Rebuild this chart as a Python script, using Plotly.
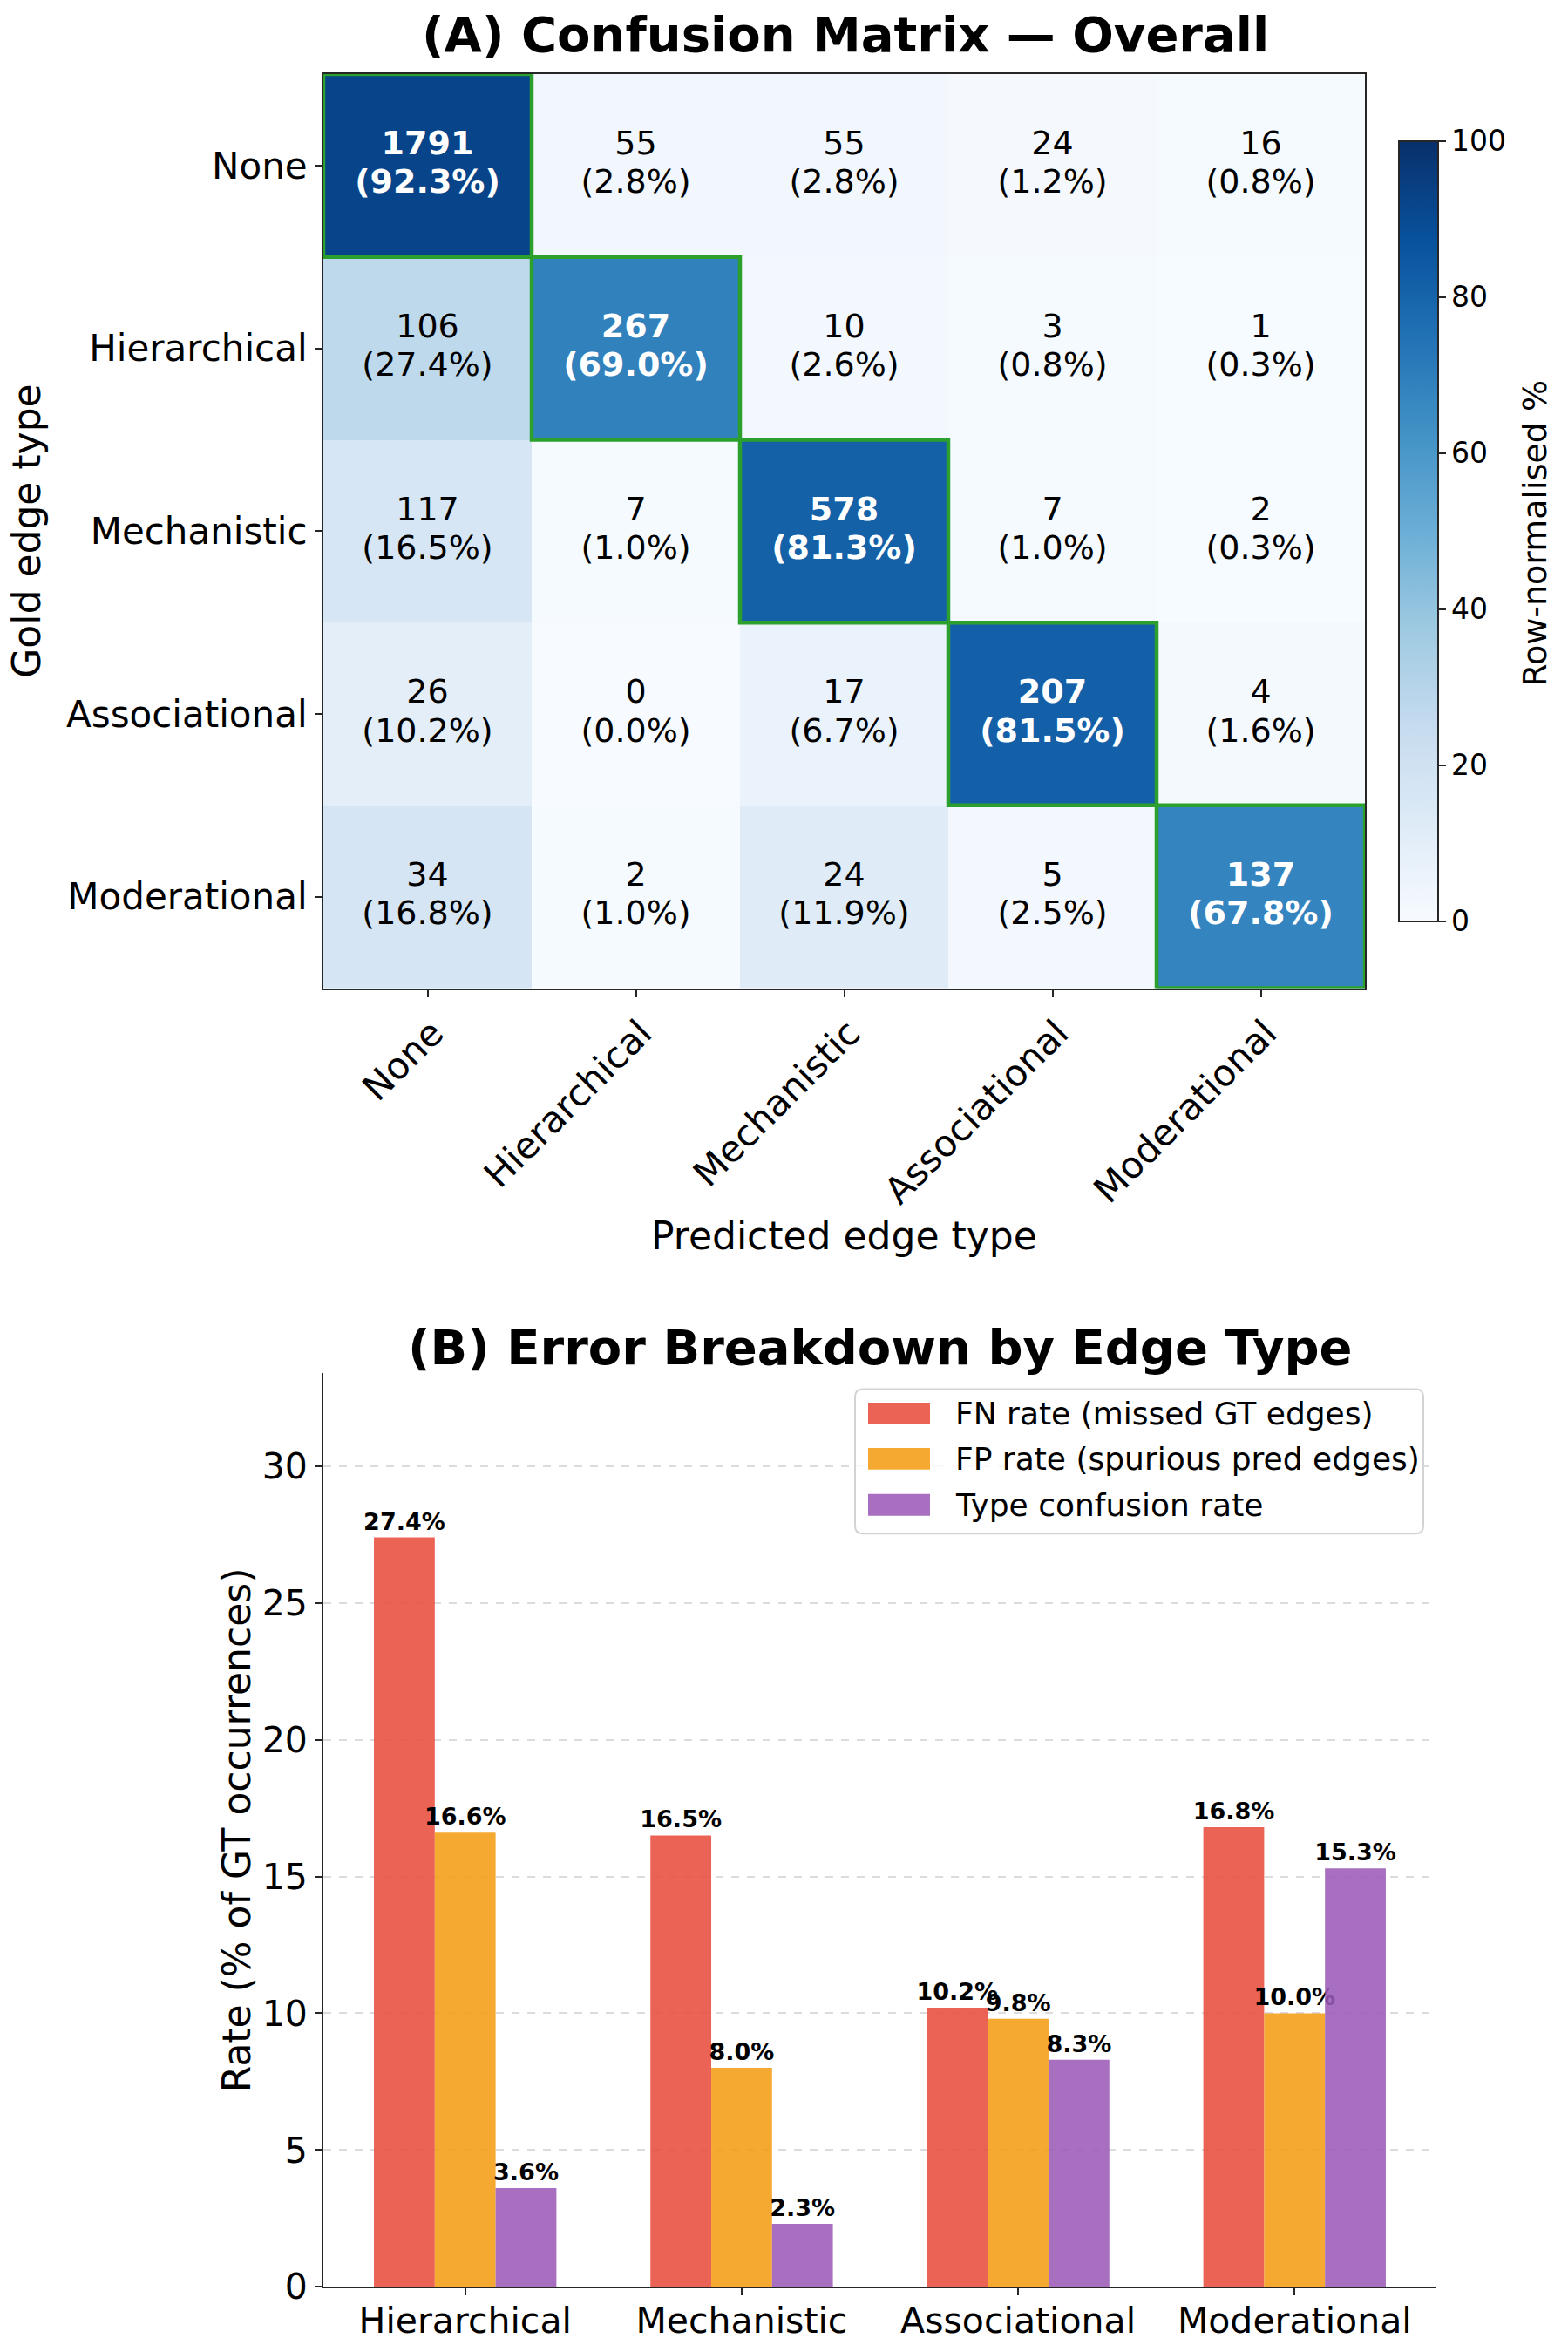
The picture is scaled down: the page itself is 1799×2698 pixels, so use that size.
import plotly.graph_objects as go

W = 1799
REF_H = 2698          # reference picture height; all positions below are reference pixels
HF = 2721             # figure height (the page is captured a little taller and scaled to 2698)
FONT = "DejaVu Sans"

# ---------------- data ----------------
pred_labels = ["None", "Hierarchical", "Mechanistic", "Associational", "Moderational"]
gold_labels = ["None", "Hierarchical", "Mechanistic", "Associational", "Moderational"]
counts = [
    [1791, 55, 55, 24, 16],
    [106, 267, 10, 3, 1],
    [117, 7, 578, 7, 2],
    [26, 0, 17, 207, 4],
    [34, 2, 24, 5, 137],
]

edge_types = ["Hierarchical", "Mechanistic", "Associational", "Moderational"]
fn_rate = [27.4, 16.5, 10.2, 16.8]
fp_rate = [16.6, 8.0, 9.8, 10.0]
tc_rate = [3.6, 2.3, 8.3, 15.3]

series_names = ["FN rate (missed GT edges)", "FP rate (spurious pred edges)", "Type confusion rate"]
series_colors = ["#e74c3c", "#f39c12", "#9b59b6"]
BAR_ALPHA = 0.87

blues = ['rgb(247,251,255)', 'rgb(222,235,247)', 'rgb(198,219,239)', 'rgb(158,202,225)',
         'rgb(107,174,214)', 'rgb(66,146,198)', 'rgb(33,113,181)', 'rgb(8,81,156)', 'rgb(8,48,107)']
blues_scale = [[i / 8, c] for i, c in enumerate(blues)]

pct = [[100.0 * v / sum(row) for v in row] for row in counts]


def px_x(p):
    return p / W


def px_y(p):
    return 1 - p / REF_H


def rgba(hexcol, a):
    h = hexcol.lstrip("#")
    r, g, b = int(h[0:2], 16), int(h[2:4], 16), int(h[4:6], 16)
    return f"rgba({r},{g},{b},{a})"


fig = go.Figure()

# ---------------- (A) heatmap ----------------
nrow, ncol = len(gold_labels), len(pred_labels)
fig.add_trace(go.Heatmap(
    z=pct, x=list(range(ncol)), y=list(range(nrow)), zmin=0, zmax=100,
    colorscale=blues_scale, hoverinfo="skip",
    xaxis="x", yaxis="y",
    colorbar=dict(
        x=px_x(1605), xanchor="left", xpad=0, ypad=0,
        y=px_y(609.5), yanchor="middle", len=(1057 - 162) / REF_H, lenmode="fraction",
        thickness=45, outlinewidth=2, outlinecolor="#262626",
        tickvals=[0, 20, 40, 60, 80, 100], ticks="outside", ticklen=8, tickwidth=2,
        tickcolor="#262626",
        tickfont=dict(family=FONT, size=33, color="black"),
    ),
))

LINE_OFF = 0.105
cx, cy, ctext, ccol = [], [], [], []
px_, py_, ptext = [], [], []
for i in range(nrow):
    for j in range(ncol):
        diag = i == j
        c = f"{counts[i][j]}"
        p = f"({pct[i][j]:.1f}%)"
        if diag:
            c, p = f"<b>{c}</b>", f"<b>{p}</b>"
        cx.append(j); cy.append(i - LINE_OFF); ctext.append(c)
        px_.append(j); py_.append(i + LINE_OFF); ptext.append(p)
        ccol.append("white" if pct[i][j] > 50 else "black")

for xs, ys, ts in [(cx, cy, ctext), (px_, py_, ptext)]:
    fig.add_trace(go.Scatter(
        x=xs, y=ys, text=ts, mode="text", textposition="middle center",
        textfont=dict(family=FONT, size=38, color=ccol),
        hoverinfo="skip", showlegend=False, xaxis="x", yaxis="y",
    ))

for k in range(min(nrow, ncol)):
    fig.add_shape(type="rect", xref="x", yref="y",
                  x0=k - 0.5, x1=k + 0.5, y0=k - 0.5, y1=k + 0.5,
                  line=dict(color="#2ca02c", width=4.5), layer="above")

# ---------------- (B) bars ----------------
for name, vals, col in zip(series_names, [fn_rate, fp_rate, tc_rate], series_colors):
    fig.add_trace(go.Bar(
        x=edge_types, y=vals, name=name,
        marker=dict(color=rgba(col, BAR_ALPHA), line=dict(width=0)),
        text=[f"{v:.1f}%" for v in vals], textposition="outside", constraintext="none",
        textfont=dict(family=FONT, size=27, color="black", weight="bold"),
        cliponaxis=False, xaxis="x2", yaxis="y2", hoverinfo="skip", showlegend=False,
    ))

axis_line = dict(showline=True, linecolor="#262626", linewidth=2, ticks="outside",
                 ticklen=8, tickwidth=2, tickcolor="#262626")

fig.update_layout(
    width=W, height=HF, margin=dict(l=0, r=0, t=0, b=0),
    paper_bgcolor="white", plot_bgcolor="white",
    font=dict(family=FONT, color="black"),
    barmode="group", bargap=0.34, bargroupgap=0,
    showlegend=False,
    xaxis=dict(domain=[px_x(371), px_x(1566)], anchor="y", mirror=True,
               tickvals=list(range(ncol)), ticktext=pred_labels, ticklabelshift=6,
               tickangle=-45, tickfont=dict(size=42), showgrid=False, zeroline=False,
               range=[-0.5, ncol - 0.5], **axis_line),
    yaxis=dict(domain=[px_y(1134), px_y(85)], anchor="x", mirror=True,
               tickvals=list(range(nrow)), ticktext=gold_labels,
               tickfont=dict(size=42), showgrid=False, zeroline=False,
               range=[nrow - 0.5, -0.5], **axis_line),
    xaxis2=dict(domain=[px_x(371), px_x(1648)], anchor="y2", ticklabelstandoff=-6,
                tickfont=dict(size=41), showgrid=False, zeroline=False,
                range=[-0.513, 3.513], **axis_line),
    yaxis2=dict(domain=[px_y(2624), px_y(1576)], anchor="x2",
                range=[0, 33.4], tickvals=[0, 5, 10, 15, 20, 25, 30],
                tickfont=dict(size=41), showgrid=True, gridcolor="#dcdcdc",
                griddash="dash", gridwidth=1.5, zeroline=False, **axis_line),
)

# ---------------- legend for (B), drawn matplotlib-style ----------------
LX0, LX1, LY0, LY1, R = 981, 1633, 1594, 1760, 9
box_path = (
    f"M {px_x(LX0 + R)},{px_y(LY0)} L {px_x(LX1 - R)},{px_y(LY0)} "
    f"Q {px_x(LX1)},{px_y(LY0)} {px_x(LX1)},{px_y(LY0 + R)} "
    f"L {px_x(LX1)},{px_y(LY1 - R)} Q {px_x(LX1)},{px_y(LY1)} {px_x(LX1 - R)},{px_y(LY1)} "
    f"L {px_x(LX0 + R)},{px_y(LY1)} Q {px_x(LX0)},{px_y(LY1)} {px_x(LX0)},{px_y(LY1 - R)} "
    f"L {px_x(LX0)},{px_y(LY0 + R)} Q {px_x(LX0)},{px_y(LY0)} {px_x(LX0 + R)},{px_y(LY0)} Z"
)
fig.add_shape(type="path", path=box_path, xref="paper", yref="paper",
              fillcolor="rgba(255,255,255,0.8)", line=dict(color="#d3d3d3", width=2), layer="above")
row_centers = [1622, 1674, 1727]
for name, col, yc in zip(series_names, series_colors, row_centers):
    fig.add_shape(type="rect", xref="paper", yref="paper",
                  x0=px_x(996), x1=px_x(1067), y0=px_y(yc + 12.5), y1=px_y(yc - 12.5),
                  fillcolor=rgba(col, BAR_ALPHA), line=dict(width=0), layer="above")
    fig.add_annotation(text=name, x=px_x(1094), y=px_y(yc), xref="paper", yref="paper",
                       xanchor="left", yanchor="middle", showarrow=False,
                       font=dict(family=FONT, size=36, color="black"))

annots = [
    dict(text="<b>(A) Confusion Matrix — Overall</b>", x=970, y=40, size=56, angle=0),
    dict(text="<b>(B) Error Breakdown by Edge Type</b>", x=1010, y=1546, size=56, angle=0),
    dict(text="Predicted edge type", x=968, y=1418, size=44, angle=0),
    dict(text="Gold edge type", x=31, y=610, size=44, angle=-90),
    dict(text="Rate (% of GT occurrences)", x=271, y=2100, size=44, angle=-90),
    dict(text="Row-normalised %", x=1761, y=612, size=38, angle=-90),
]
for a in annots:
    fig.add_annotation(text=a["text"], x=px_x(a["x"]), y=px_y(a["y"]), xref="paper", yref="paper",
                       xanchor="center", yanchor="middle", showarrow=False,
                       textangle=a["angle"], font=dict(family=FONT, size=a["size"], color="black"))

fig.write_html("out.html")
